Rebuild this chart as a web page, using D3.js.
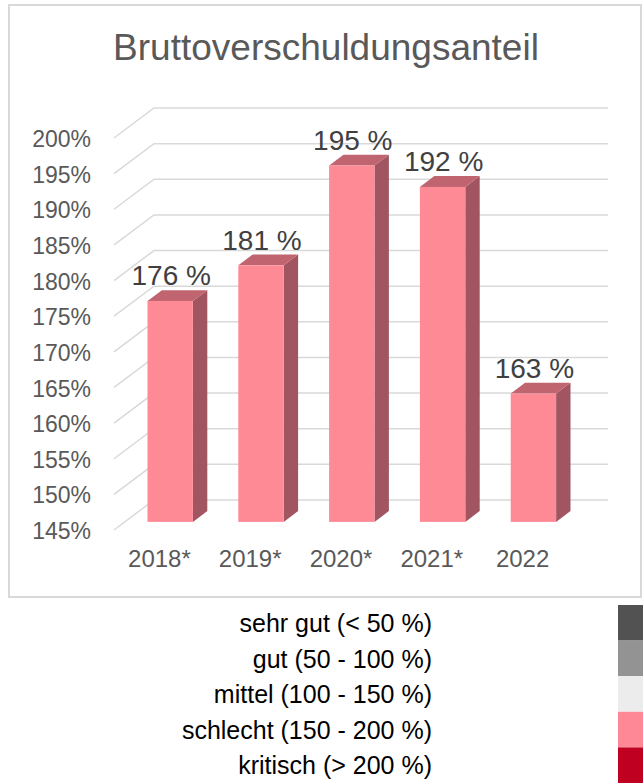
<!DOCTYPE html>
<html lang="de">
<head>
    <meta charset="UTF-8">
    <title>Bruttoverschuldungsanteil</title>
    <style>
        body { margin: 0; background: #fff; }
        svg text { font-family: "Liberation Sans", Arial, sans-serif; }
    </style>
</head>
<body>
<script src="https://d3js.org/d3.v7.min.js"></script>
<script>
    // data
    var years = ["2018*", "2019*", "2020*", "2021*", "2022"];
    var shares = [176, 181, 195, 192, 163];
    var tickValues = [145, 150, 155, 160, 165, 170, 175, 180, 185, 190, 195, 200];
    var legendLabels = ["sehr gut (< 50 %)", "gut (50 - 100 %)", "mittel (100 - 150 %)",
                        "schlecht (150 - 200 %)", "kritisch (> 200 %)"];
    var legendColors = ["#525252", "#939393", "#ececec", "#fe8896", "#c00020"];

    var width = 643, height = 783;
    var depthX = 40, depthY = -30;      // offset of the back wall
    var barFront = 0.27, barBack = 0.63; // where the bars sit inside the depth

    var svg = d3.select("body")
                .append("svg")
                .attr("width", width)
                .attr("height", height);

    // chart frame
    svg.append("rect")
        .attr("x", 9).attr("y", 5)
        .attr("width", 632).attr("height", 592)
        .attr("fill", "#fff")
        .attr("stroke", "#d9d9d9")
        .attr("stroke-width", 2);

    svg.append("text")
        .attr("x", 326).attr("y", 60)
        .attr("text-anchor", "middle")
        .style("font-size", "37px")
        .attr("fill", "#595959")
        .text("Bruttoverschuldungsanteil");

    var x = d3.scaleBand()
              .domain(years)
              .range([114, 568])
              .paddingInner(0.5)
              .paddingOuter(0.25);

    var y = d3.scaleLinear()
              .domain([145, 200])
              .range([530, 138]);

    // gridlines: diagonal on the side wall, then flat along the back wall
    var grid = svg.append("g")
                  .attr("fill", "none")
                  .attr("stroke", "#d9d9d9")
                  .attr("stroke-width", 1.5);

    grid.selectAll("path")
        .data(tickValues)
        .enter()
        .append("path")
        .attr("d", function(v) {
            var p = d3.path();
            p.moveTo(x.range()[0], y(v));
            p.lineTo(x.range()[0] + depthX, y(v) + depthY);
            p.lineTo(x.range()[1] + depthX, y(v) + depthY);
            return p.toString();
        });

    svg.append("g")
        .selectAll("text")
        .data(tickValues)
        .enter()
        .append("text")
        .attr("x", 91)
        .attr("y", function(v) { return y(v) + 1; })
        .attr("dy", "0.35em")
        .attr("text-anchor", "end")
        .attr("fill", "#595959")
        .style("font-size", "23px")
        .text(function(v) { return v + "%"; });

    // 3D bars
    var fx = depthX * barFront, fy = depthY * barFront;
    var sx = depthX * (barBack - barFront), sy = depthY * (barBack - barFront);
    var bw = x.bandwidth();

    var bars = svg.selectAll(".bar")
                  .data(shares)
                  .enter()
                  .append("g")
                  .attr("class", "bar");

    bars.append("path")
        .attr("fill", "#a05560")
        .attr("d", function(d, i) {
            var x0 = x(years[i]) + fx + bw, yt = y(d) + fy, yb = y(145) + fy;
            return "M" + x0 + "," + yt + "L" + (x0 + sx) + "," + (yt + sy) +
                   "L" + (x0 + sx) + "," + (yb + sy) + "L" + x0 + "," + yb + "Z";
        });

    bars.append("path")
        .attr("fill", "#c0656f")
        .attr("d", function(d, i) {
            var x0 = x(years[i]) + fx, yt = y(d) + fy;
            return "M" + x0 + "," + yt + "L" + (x0 + sx) + "," + (yt + sy) +
                   "L" + (x0 + bw + sx) + "," + (yt + sy) + "L" + (x0 + bw) + "," + yt + "Z";
        });

    bars.append("rect")
        .attr("fill", "#fe8a96")
        .attr("x", function(d, i) { return x(years[i]) + fx; })
        .attr("y", function(d) { return y(d) + fy; })
        .attr("width", bw)
        .attr("height", function(d) { return y(145) - y(d); });

    bars.append("text")
        .attr("x", function(d, i) { return x(years[i]) + fx + bw / 2 + 1; })
        .attr("y", function(d) { return y(d) + fy + sy - 5; })
        .attr("text-anchor", "middle")
        .attr("fill", "#404040")
        .style("font-size", "28px")
        .text(function(d) { return d + " %"; });

    svg.append("g")
        .selectAll("text")
        .data(years)
        .enter()
        .append("text")
        .attr("x", function(d) { return x(d) + bw / 2; })
        .attr("y", 567)
        .attr("text-anchor", "middle")
        .attr("fill", "#595959")
        .style("font-size", "24px")
        .text(function(d) { return d; });

    // rating legend below the chart
    var legend = svg.append("g");

    legend.selectAll("rect")
        .data(legendColors)
        .enter()
        .append("rect")
        .attr("x", 618)
        .attr("y", function(d, i) { return 605 + i * 35.6; })
        .attr("width", 30)
        .attr("height", 35.6)
        .attr("fill", function(d) { return d; });

    legend.selectAll("text")
        .data(legendLabels)
        .enter()
        .append("text")
        .attr("x", 432)
        .attr("y", function(d, i) { return 632 + i * 35.6; })
        .attr("text-anchor", "end")
        .attr("fill", "#000")
        .style("font-size", "25px")
        .text(function(d) { return d; });
</script>
</body>
</html>
